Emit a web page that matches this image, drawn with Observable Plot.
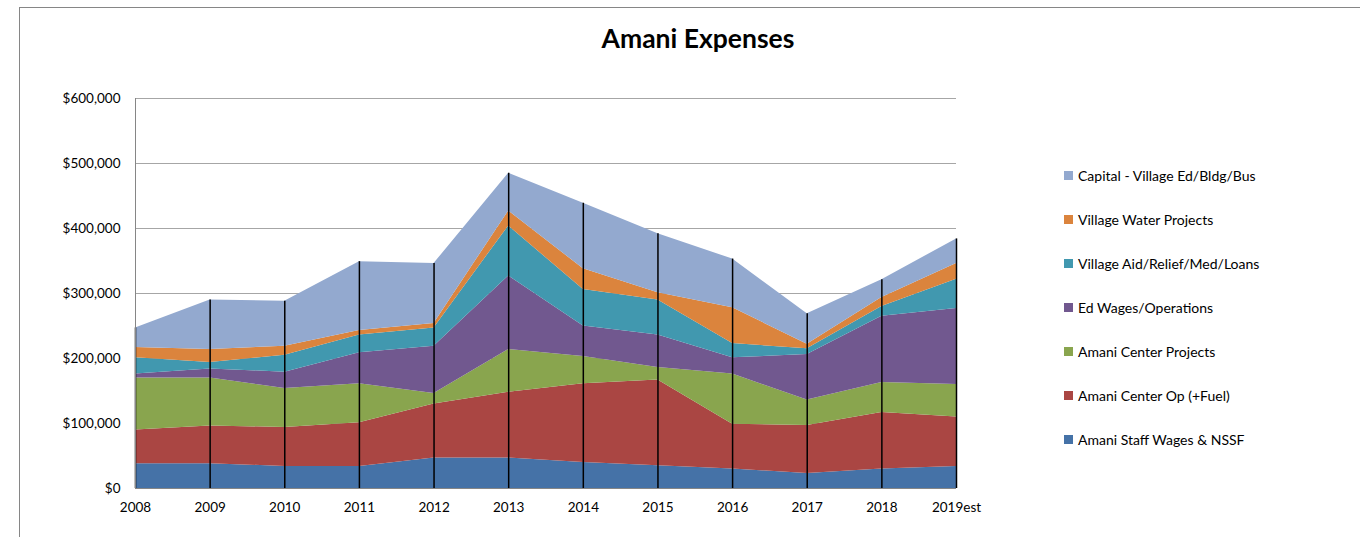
<!DOCTYPE html>
<html><head><meta charset="utf-8">
<script src="https://cdn.jsdelivr.net/npm/d3@7"></script>
<script src="https://cdn.jsdelivr.net/npm/@observablehq/plot@0.6"></script>
<style>
body{margin:0;background:#fff;font-family:Lato,"Open Sans",sans-serif;}
#wrap{position:relative;width:1360px;height:537px;overflow:hidden;background:#fff;}
#frame{position:absolute;left:19px;top:7px;width:1400px;height:600px;border:1px solid #868686;}
#chart{position:absolute;left:0;top:0;}
#title{position:absolute;left:498px;width:400px;top:22px;text-align:center;font-weight:bold;font-size:26.5px;color:#000;}
#legend{position:absolute;left:1064px;top:166px;}
.li{height:44px;display:flex;align-items:flex-start;font-size:14px;color:#000;line-height:20px;}
.sw{width:9px;height:9px;margin-right:5px;margin-top:5px;flex:none;}
</style></head>
<body><div id="wrap"><div id="frame"></div><div id="chart"></div><div id="title">Amani Expenses</div><div id="legend"></div></div>
<script>
const years = ["2008","2009","2010","2011","2012","2013","2014","2015","2016","2017","2018","2019"];
const yearLabels = ["2008","2009","2010","2011","2012","2013","2014","2015","2016","2017","2018","2019est"];
const seriesNames = ["Amani Staff Wages & NSSF","Amani Center Op (+Fuel)","Amani Center Projects","Ed Wages/Operations","Village Aid/Relief/Med/Loans","Village Water Projects","Capital - Village Ed/Bldg/Bus"];
const seriesColors = ["#4572A7","#AA4643","#89A54E","#71588F","#4198AF","#DB843D","#93A9CF"];
const staff    = [38000,38000,34000,34000,47000,47000,40000,35000,30000,23000,30000,34000];
const op       = [52000,58000,60000,67000,83000,101000,121000,132000,69000,74000,87000,76000];
const projects = [80000,74000,60000,60000,16000,66000,42000,19000,77000,39000,46000,50000];
const edWages  = [6000,14000,25000,48000,73000,113000,47000,50000,25000,70000,102000,117000];
const aid      = [25000,10000,26000,27000,28000,77000,56000,54000,22000,9000,15000,45000];
const water    = [16000,20000,14000,7000,7000,23000,32000,11000,55000,7000,14000,24000];
const capital  = [30000,76000,69000,106000,92000,58000,101000,91000,75000,47000,27000,38000];
const yTicks = [0,100000,200000,300000,400000,500000,600000];

const seriesValues = [staff, op, projects, edWages, aid, water, capital];
const data = [];
seriesNames.forEach((s, si) => years.forEach((y, yi) => data.push({series: s, year: y, value: seriesValues[si][yi]})));
const totals = years.map((y, yi) => ({year: y, total: d3.sum(seriesValues, v => v[yi])}));
const labelOf = Object.fromEntries(years.map((y, i) => [y, yearLabels[i]]));

const chart = Plot.plot({
  width: 1360, height: 537,
  marginLeft: 135, marginRight: 404, marginTop: 98, marginBottom: 49,
  style: {background: "transparent", fontFamily: "Lato, 'Open Sans', sans-serif", fontSize: "13.5px", color: "#000"},
  x: {type: "point", domain: years, padding: 0, round: false},
  y: {domain: [0, 600000]},
  color: {domain: seriesNames, range: seriesColors},
  marks: [
    Plot.gridY(yTicks, {stroke: "#a6a6a6", strokeOpacity: 1, strokeWidth: 1}),
    Plot.areaY(data, {x: "year", y: "value", fill: "series", z: "series", order: seriesNames}),
    Plot.ruleX(totals, {x: "year", y1: 0, y2: "total", stroke: "#000", strokeWidth: 1.5}),
    Plot.ruleY([0], {stroke: "#868686"}),
    Plot.ruleX([years[0]], {stroke: "#868686"}),
    Plot.axisY(yTicks, {tickSize: 0, tickPadding: 15, tickFormat: d => "$" + d3.format(",")(d), label: null, fill: "#000"}),
    Plot.axisX({tickSize: 0, tickPadding: 14, tickFormat: d => labelOf[d], label: null, fill: "#000"})
  ]
});
document.getElementById("chart").appendChild(chart);

const legend = document.getElementById("legend");
[...seriesNames].reverse().forEach(name => {
  const i = seriesNames.indexOf(name);
  const row = document.createElement("div");
  row.className = "li";
  const sw = document.createElement("div");
  sw.className = "sw";
  sw.style.background = seriesColors[i];
  const t = document.createElement("span");
  t.textContent = name;
  row.appendChild(sw); row.appendChild(t);
  legend.appendChild(row);
});
</script>
</body></html>
